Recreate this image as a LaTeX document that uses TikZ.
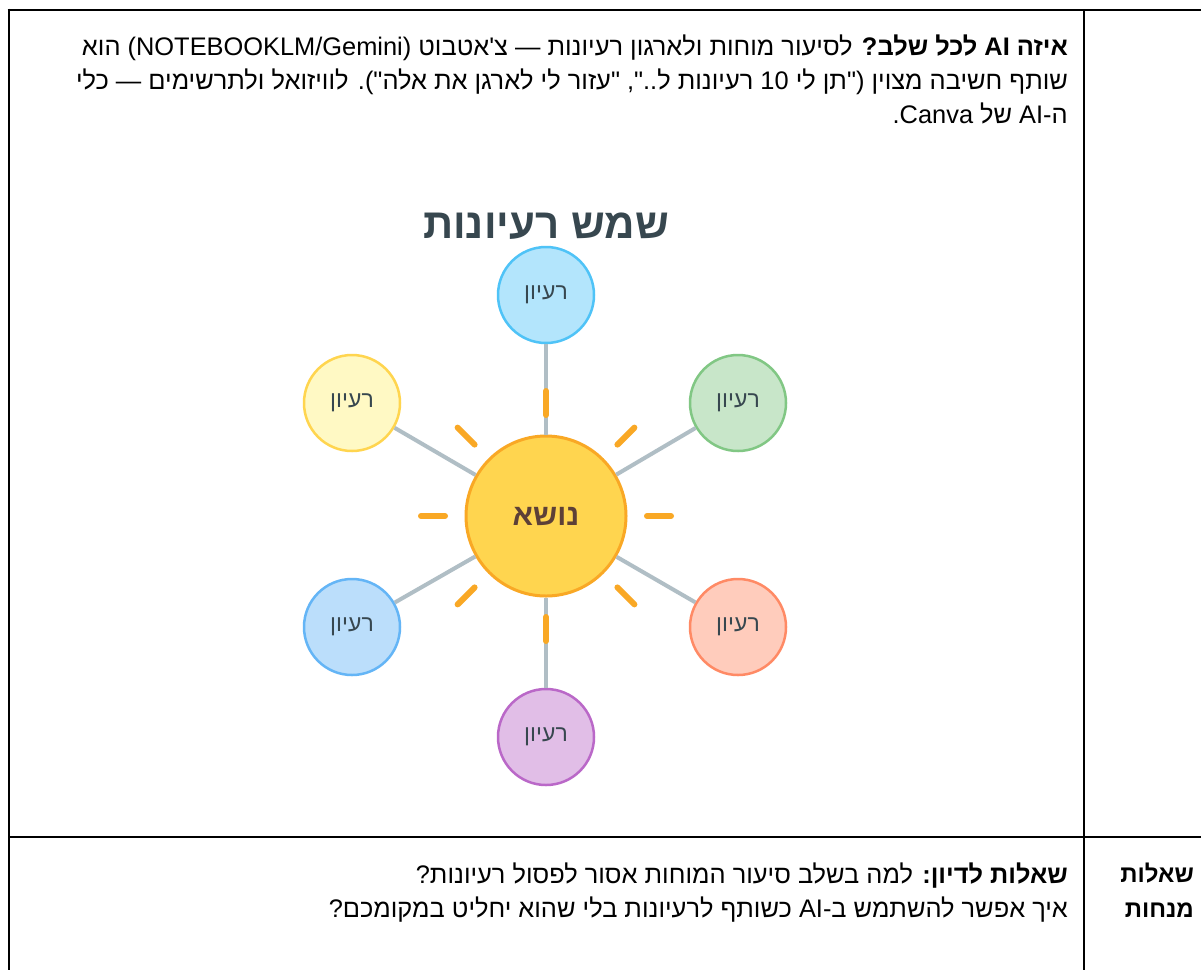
\documentclass[tikz,border=0pt]{standalone}
\usepackage{fontspec}
\setmainfont{Liberation Sans}
\newfontfamily\heb[Script=Hebrew]{Liberation Sans}
\TeXXeTstate=1
\usetikzlibrary{calc}
\definecolor{slate}{HTML}{37474F}
\definecolor{ideatext}{HTML}{37474F}
\definecolor{suntext}{HTML}{5D4037}
\definecolor{sunfill}{HTML}{FFD54F}
\definecolor{sunstroke}{HTML}{F9A825}
\definecolor{conncol}{HTML}{B0BEC5}
\definecolor{ftop}{HTML}{B3E5FC}\definecolor{stop}{HTML}{4FC3F7}
\definecolor{fgreen}{HTML}{C8E6C9}\definecolor{sgreen}{HTML}{81C784}
\definecolor{forange}{HTML}{FFCCBC}\definecolor{sorange}{HTML}{FF8A65}
\definecolor{fpurple}{HTML}{E1BEE7}\definecolor{spurple}{HTML}{BA68C8}
\definecolor{fblue}{HTML}{BBDEFB}\definecolor{sblue}{HTML}{64B5F6}
\definecolor{fyellow}{HTML}{FFF9C4}\definecolor{syellow}{HTML}{FFD54F}
\tikzset{
  tbl/.style={line width=2.6pt, black},
  para/.style={anchor=base east, inner sep=0pt, font=\heb\fontsize{25.4}{30}\selectfont},
  head/.style={anchor=base east, inner sep=0pt, font=\heb\bfseries\fontsize{24}{28}\selectfont},
  idea/.style 2 args={circle, minimum size=96pt, inner sep=0pt, fill=#1, draw=#2, line width=2.5pt,
    font=\heb\fontsize{23}{26}\selectfont, text=ideatext},
  sunnode/.style={circle, minimum size=160pt, inner sep=0pt, fill=sunfill, draw=sunstroke, line width=3pt,
    font=\heb\bfseries\fontsize{30}{34}\selectfont, text=suntext},
  conn/.style={draw=conncol, line width=4pt},
  ray/.style={draw=sunstroke, line width=6pt, line cap=round},
  titlestyle/.style={font=\heb\bfseries\fontsize{42}{46}\selectfont, text=slate, inner sep=0pt}
}
\begin{document}
\begin{tikzpicture}[x=1pt,y={(0pt,-1pt)}]
\useasboundingbox (0,0) rectangle (1201,970);
\fill[white] (0,0) rectangle (1201,970);
% table
\draw[tbl] (7.7,10) -- (1201,10);
\draw[tbl] (9,8.7) -- (9,970);
\draw[tbl] (1084,10) -- (1084,970);
\draw[tbl] (9,837) -- (1201,837);
% top text
\node[para] (p1) at (1068,55) {\beginR{\bfseries איזה \beginL AI\endL{} לכל שלב?} לסיעור מוחות ולארגון רעיונות — צ'אטבוט \beginL(NOTEBOOKLM/Gemini)\endL{} הוא\endR};
\node[para] (p2) at (1068,89) {\beginR שותף חשיבה מצוין ("תן לי \beginL 10\endL{} רעיונות ל..", "עזור לי לארגן את אלה"). לוויזואל ולתרשימים — כלי\endR};
\node[para] (p3) at (1068,123) {\beginR ה-AI של \beginL Canva\endL.\endR};
% title
\node[titlestyle] (title) at (546,226) {\beginR שמש רעיונות\endR};
% sun and ideas
\node[sunnode] (sun) at (546,516) {\beginR נושא\endR};
\node[idea={ftop}{stop}] (i1) at (546,295) {\beginR רעיון\endR};
\node[idea={fgreen}{sgreen}] (i2) at (738,403) {\beginR רעיון\endR};
\node[idea={forange}{sorange}] (i3) at (738,627) {\beginR רעיון\endR};
\node[idea={fpurple}{spurple}] (i4) at (546,737) {\beginR רעיון\endR};
\node[idea={fblue}{sblue}] (i5) at (352,627) {\beginR רעיון\endR};
\node[idea={fyellow}{syellow}] (i6) at (352,403) {\beginR רעיון\endR};
\foreach \i in {1,...,6} \draw[conn] (sun) -- (i\i);
\foreach \a in {0,45,...,315}
  \draw[ray] ($(sun.center)+(\a:101)$) -- ($(sun.center)+(\a:125)$);
% bottom text
\node[para] (q1) at (1068,883) {\beginR{\bfseries שאלות לדיון:} למה בשלב סיעור המוחות אסור לפסול רעיונות?\endR};
\node[para] (q2) at (1068,917) {\beginR איך אפשר להשתמש ב-AI כשותף לרעיונות בלי שהוא יחליט במקומכם?\endR};
\node[head] (h1) at (1194,882) {\beginR שאלות\endR};
\node[head] (h2) at (1194,917) {\beginR מנחות\endR};
\end{tikzpicture}
\end{document}
